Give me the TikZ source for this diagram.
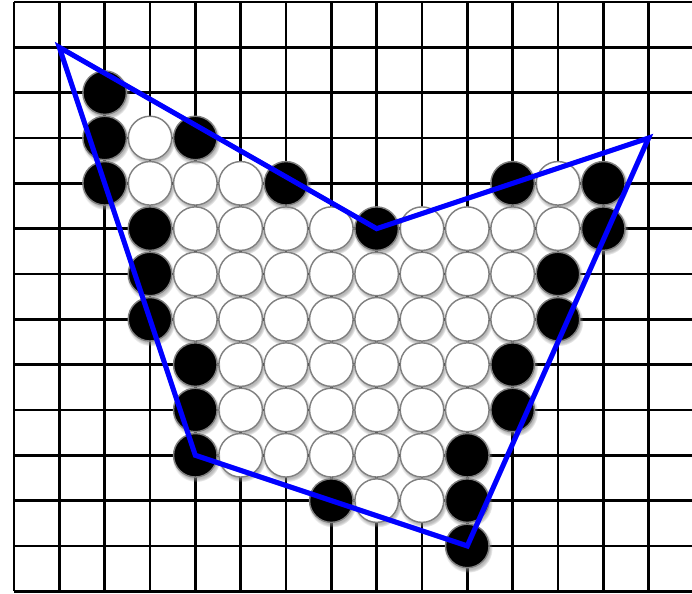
\documentclass[tikz,border=0pt]{standalone}
\usetikzlibrary{shadows}

\begin{document}
\begin{tikzpicture}[
  x=1cm, y=-1cm,
  gridline/.style={black, line width=1.6pt},
  stone/.style={circle, draw=black!50, line width=0.9pt, minimum size=0.96cm, inner sep=0pt,
    circular drop shadow={shadow scale=1.12, shadow xshift=0.6pt, shadow yshift=-1.4pt, opacity=0.55}},
  blackstone/.style={stone, fill=black},
  whitestone/.style={stone, fill=white},
  hull/.style={blue, line width=3.2pt}
]
\useasboundingbox (-0.309,-0.044) rectangle (14.957,13.044);

% Board grid
\foreach \i in {0,...,14}
  \draw[gridline] (\i,0) -- (\i,13);
\foreach \j in {0,...,13}
  \draw[gridline] (0,\j) -- (14.957,\j);

% White stones (inside)
\foreach \c/\r in {3/3, 3/4, 4/4, 5/4, 12/4,
    4/5, 5/5, 6/5, 7/5, 9/5, 10/5, 11/5, 12/5,
    4/6, 5/6, 6/6, 7/6, 8/6, 9/6, 10/6, 11/6,
    4/7, 5/7, 6/7, 7/7, 8/7, 9/7, 10/7, 11/7,
    5/8, 6/8, 7/8, 8/8, 9/8, 10/8,
    5/9, 6/9, 7/9, 8/9, 9/9, 10/9,
    5/10, 6/10, 7/10, 8/10, 9/10,
    8/11, 9/11}
  \node[whitestone] (w\c-\r) at (\c,\r) {};

% Black stones (border)
\foreach \c/\r in {2/2, 2/3, 4/3, 2/4, 6/4, 11/4, 13/4,
    3/5, 8/5, 13/5, 3/6, 12/6, 3/7, 12/7,
    4/8, 11/8, 4/9, 11/9, 4/10, 10/10,
    7/11, 10/11, 10/12}
  \node[blackstone] (b\c-\r) at (\c,\r) {};

% Hull
\coordinate (p1) at (1,1);
\coordinate (p2) at (8,5);
\coordinate (p3) at (14,3);
\coordinate (p4) at (10,12);
\coordinate (p5) at (4,10);
\draw[hull] (p1) -- (p2) -- (p3) -- (p4) -- (p5) -- cycle;

\end{tikzpicture}
\end{document}
